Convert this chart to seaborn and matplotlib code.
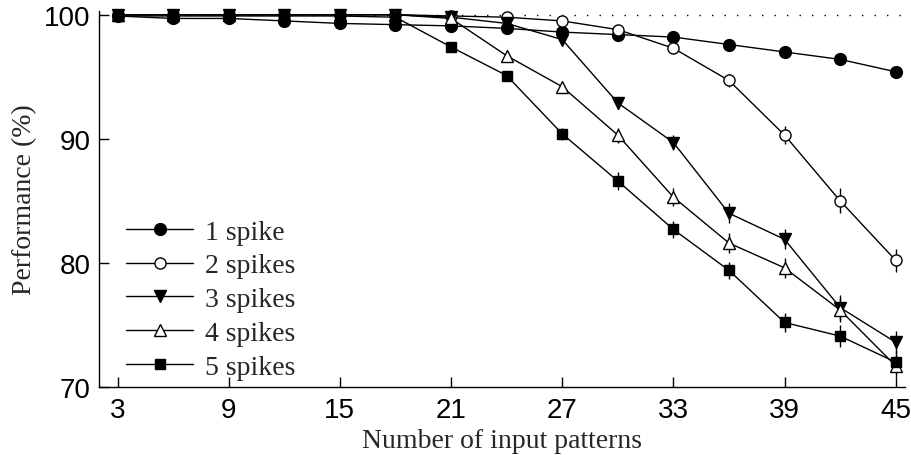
import matplotlib
matplotlib.use("Agg")
import matplotlib.pyplot as plt
import seaborn as sns
import pandas as pd

# number of input patterns
patterns = [3, 6, 9, 12, 15, 18, 21, 24, 27, 30, 33, 36, 39, 42, 45]

# performance (%) for each number of spikes
perf_1 = [99.9, 99.7, 99.7, 99.5, 99.3, 99.2, 99.1, 98.9, 98.6, 98.4, 98.2, 97.6, 97.0, 96.4, 95.4]
perf_2 = [100.0, 100.0, 100.0, 100.0, 100.0, 100.0, 99.9, 99.8, 99.5, 98.8, 97.3, 94.7, 90.3, 85.0, 80.2]
perf_3 = [100.0, 100.0, 100.0, 100.0, 100.0, 100.0, 99.8, 99.3, 98.0, 92.9, 89.7, 84.0, 81.9, 76.4, 73.6]
perf_4 = [100.0, 100.0, 100.0, 100.0, 100.0, 100.0, 99.7, 96.7, 94.2, 90.3, 85.3, 81.6, 79.6, 76.2, 71.7]
perf_5 = [99.9, 99.9, 99.9, 99.9, 99.9, 99.8, 97.4, 95.1, 90.4, 86.6, 82.7, 79.4, 75.2, 74.1, 72.0]

# error bars (rough)
err_1 = [0.1, 0.1, 0.1, 0.1, 0.1, 0.1, 0.1, 0.1, 0.1, 0.2, 0.2, 0.2, 0.2, 0.2, 0.3]
err_2 = [0.0, 0.0, 0.0, 0.0, 0.0, 0.0, 0.1, 0.1, 0.2, 0.3, 0.4, 0.5, 0.7, 1.0, 0.9]
err_3 = [0.0, 0.0, 0.0, 0.0, 0.0, 0.0, 0.1, 0.2, 0.3, 0.5, 0.6, 0.8, 0.8, 1.0, 0.9]
err_4 = [0.0, 0.0, 0.0, 0.0, 0.0, 0.0, 0.1, 0.3, 0.4, 0.6, 0.7, 0.8, 0.8, 1.0, 0.9]
err_5 = [0.0, 0.0, 0.0, 0.0, 0.0, 0.0, 0.3, 0.4, 0.5, 0.7, 0.7, 0.7, 0.8, 0.9, 0.9]

labels = ["1 spike", "2 spikes", "3 spikes", "4 spikes", "5 spikes"]
series = [perf_1, perf_2, perf_3, perf_4, perf_5]
errors = [err_1, err_2, err_3, err_4, err_5]
markers = ["o", "o", "v", "^", "s"]
faces = ["black", "white", "black", "white", "black"]
sizes = [8.5, 8, 9, 9, 7]

sns.set_style("ticks")
plt.rcParams["font.family"] = ["Liberation Sans", "DejaVu Sans"]

fig = plt.figure(figsize=(9.11, 4.56), dpi=100)
ax = fig.add_axes([99 / 911, 68 / 456, 806 / 911, 376 / 456])

# dotted reference line at 100 %
ax.axhline(100, color="black", linestyle=(0, (1, 8)), linewidth=1.0, zorder=1)

for lab, vals, err, m, fc, ms in zip(labels, series, errors, markers, faces, sizes):
    df = pd.DataFrame({"x": patterns, "y": vals})
    ax.errorbar(patterns, vals, yerr=err, fmt="none", ecolor="black", elinewidth=1.0, zorder=2, clip_on=False)
    sns.lineplot(data=df, x="x", y="y", ax=ax, color="black", linewidth=1.0,
                 marker=m, markersize=ms, markerfacecolor=fc, markeredgecolor="black",
                 markeredgewidth=1.0, label=lab, zorder=3, clip_on=False)

ax.set_xlim(2, 45.5)
ax.set_ylim(70, 100.3)
ax.set_xticks([3, 9, 15, 21, 27, 33, 39, 45])
ax.set_yticks([70, 80, 90, 100])
ax.tick_params(direction="in", length=7, width=1, labelsize=20, colors="black")
ax.tick_params(axis="x", pad=7)
ax.tick_params(axis="y", pad=6)
sns.despine(ax=ax)
for s in ["left", "bottom"]:
    ax.spines[s].set_linewidth(1.0)
    ax.spines[s].set_color("black")

ax.set_xlabel("Number of input patterns", family=["Liberation Serif"], fontsize=20, labelpad=4)
ax.set_ylabel("Performance (%)", family=["Liberation Serif"], fontsize=20, labelpad=5)

leg = ax.legend(loc="lower left", bbox_to_anchor=(0.02, -0.01), frameon=False, handlelength=2.4,
                handletextpad=0.45, labelspacing=0.3, prop={"family": "Liberation Serif", "size": 20},
                borderaxespad=0.0)

fig.savefig("out.png", dpi=100)
